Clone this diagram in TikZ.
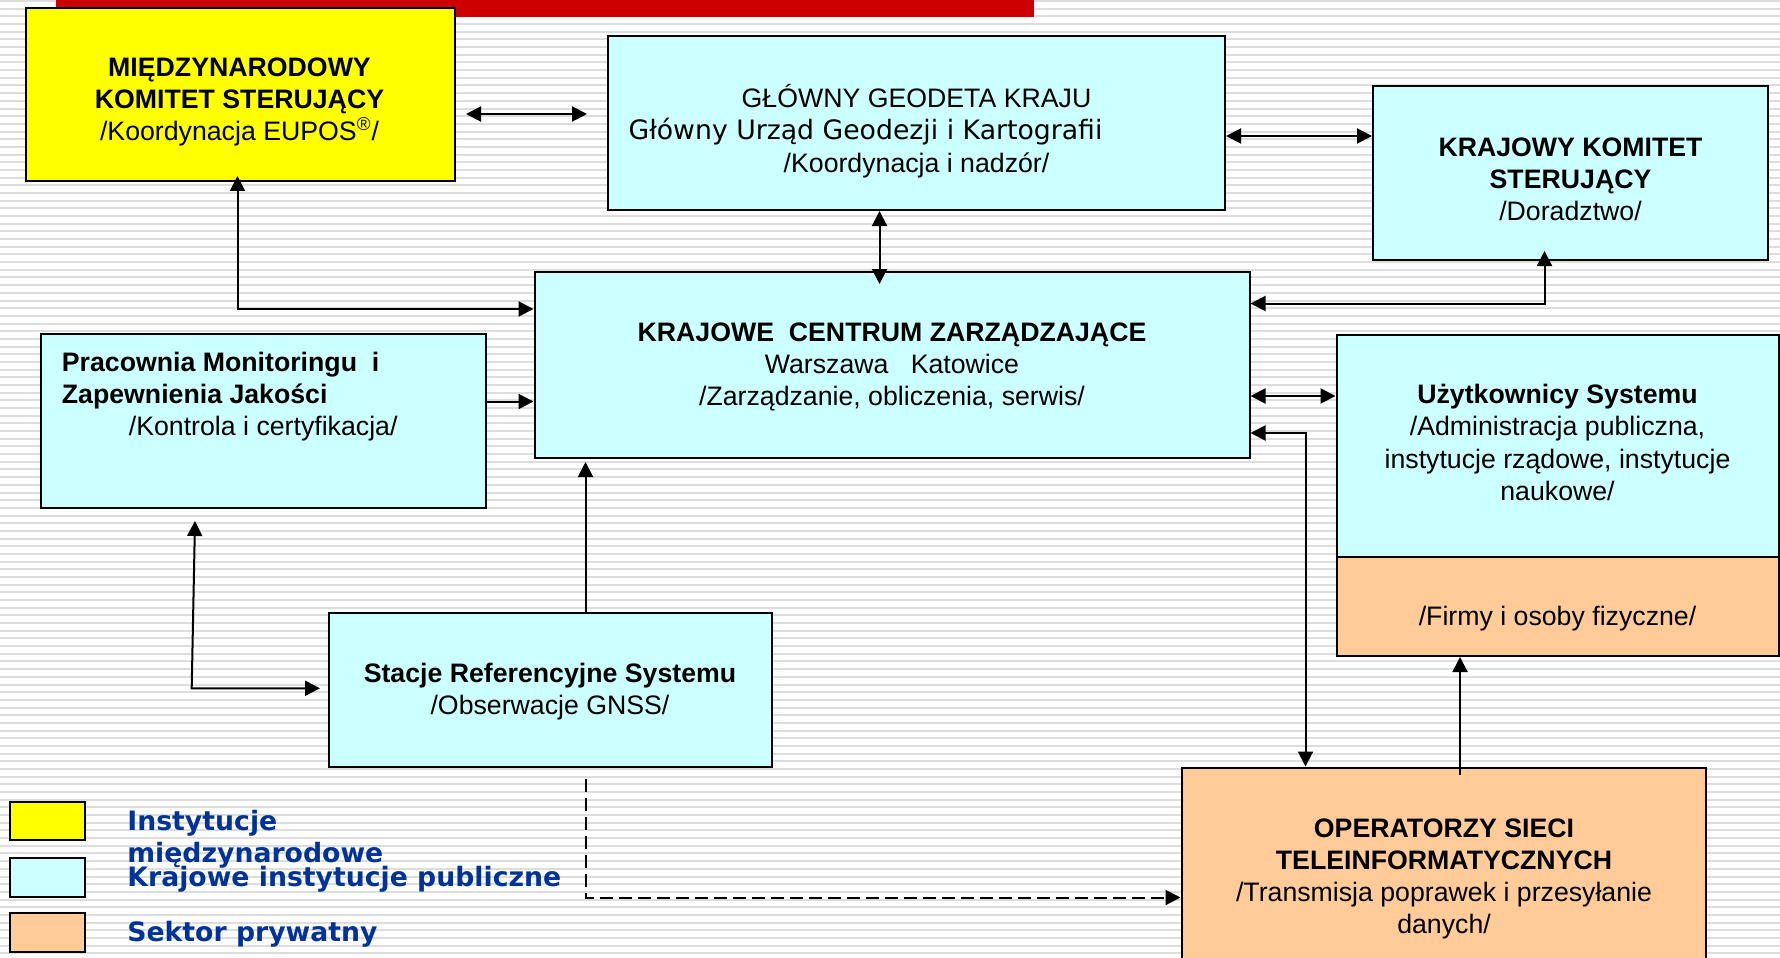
\documentclass[tikz,border=0pt]{standalone}
\usepackage{fontspec}
\setmainfont{Liberation Sans}
\newfontfamily\dejavu{DejaVu Sans}
\usetikzlibrary{arrows.meta,fit}

\definecolor{boxyellow}{RGB}{255,255,0}
\definecolor{boxcyan}{RGB}{204,255,255}
\definecolor{boxorange}{RGB}{255,204,153}
\definecolor{barred}{RGB}{204,0,0}
\definecolor{legblue}{RGB}{0,51,153}
\definecolor{stripegray}{RGB}{221,221,221}

\tikzset{
  box/.style={draw=black, line width=1pt, inner sep=0pt},
  swatch/.style={draw=black, line width=0.9pt, inner sep=0pt},
  txt/.style={font=\fontsize{13.35}{16.15}\selectfont, align=center, inner sep=0pt},
  legtxt/.style={font=\dejavu\bfseries\fontsize{13.35}{16}\selectfont, text=legblue,
                 align=left, inner sep=0pt},
  conn/.style={line width=1pt, -{Triangle[length=7.5pt,width=7.5pt]}},
  biconn/.style={line width=1pt,
                 {Triangle[length=7.5pt,width=7.5pt]}-{Triangle[length=7.5pt,width=7.5pt]}},
  dashconn/.style={conn, dash pattern=on 6.5pt off 3pt},
  stripeline/.style={draw=stripegray, line width=1pt},
}

\begin{document}
\begin{tikzpicture}[x=0.5pt, y=-0.5pt]
  \path[use as bounding box] (0,0) rectangle (1780,957);
  \clip (0,0) rectangle (1780,957);

  % striped background
  \fill[white] (0,0) rectangle (1780,957);
  \foreach \k in {0,...,124} {
    \draw[stripeline] (0,{1+7.68*\k}) -- (1780,{1+7.68*\k});
  }

  % red title bar
  \fill[barred] (56,0) rectangle (1034,17.5);

  % boxes
  \node[box, fill=boxyellow, fit={(25.5,8.5) (454.5,181)}] (mks) {};
  \node[box, fill=boxcyan, fit={(608,36.5) (1225,210)}] (ggk) {};
  \node[box, fill=boxcyan, fit={(1373,86.5) (1768,260)}] (kks) {};
  \node[box, fill=boxcyan, fit={(534.5,272) (1249.5,458)}] (kcz) {};
  \node[box, fill=boxcyan, fit={(41,334) (485.5,507.5)}] (pm) {};
  \node[box, fill=boxcyan, fit={(1336.5,334.5) (1779,557)}] (us) {};
  \node[box, fill=boxorange, fit={(1336.5,557) (1779,656)}] (fo) {};
  \node[box, fill=boxcyan, fit={(328.5,612.5) (772,767)}] (srs) {};
  \node[box, fill=boxorange, fit={(1181.5,767.5) (1706,975)}] (osti) {};

  % box texts
  \node[txt] (mks-t) at (239.5,102)
    {\strut\textbf{MIĘDZYNARODOWY}\\\strut\textbf{KOMITET STERUJĄCY}\\\strut/Koordynacja EUPOS\smash{\textsuperscript{®}}/};
  \node[txt] (ggk-t) at (916.5,133)
    {\strut GŁÓWNY GEODETA KRAJU\\\strut{\dejavu Główny Urząd Geodezji i Kartografii}\rule{51pt}{0pt}\\\strut/Koordynacja i nadzór/};
  \node[txt] (kks-t) at (1570.5,182)
    {\strut\textbf{KRAJOWY KOMITET}\\\strut\textbf{STERUJĄCY}\\\strut/Doradztwo/};
  \node[txt] (kcz-t) at (892,367)
    {\strut\textbf{KRAJOWE\ \ CENTRUM ZARZĄDZAJĄCE}\\\strut Warszawa\ \ \ Katowice\\\strut/Zarządzanie, obliczenia, serwis/};
  \node[txt, align=left, anchor=west] (pm-t) at (61.5,397.2)
    {\strut\textbf{Pracownia Monitoringu\ \ i}\\\strut\textbf{Zapewnienia Jakości}\\\strut\rule{33.5pt}{0pt}/Kontrola i certyfikacja/};
  \node[txt] (us-t) at (1557.5,445.5)
    {\strut\textbf{Użytkownicy Systemu}\\\strut/Administracja publiczna,\\\strut instytucje rządowe, instytucje\\\strut naukowe/};
  \node[txt] (fo-t) at (1557.5,619.5) {\strut/Firmy i osoby fizyczne/};
  \node[txt] (srs-t) at (550,692.2)
    {\strut\textbf{Stacje Referencyjne Systemu}\\\strut/Obserwacje GNSS/};
  \node[txt] (osti-t) at (1444,879)
    {\strut\textbf{OPERATORZY SIECI}\\\strut\textbf{TELEINFORMATYCZNYCH}\\\strut/Transmisja poprawek i przesyłanie\\\strut danych/};

  % connector end points
  \coordinate (p1a) at (466,114);
  \coordinate (p1b) at (587,114);
  \coordinate (p2) at (0,136);
  \coordinate (p3) at (879.5,284);
  \coordinate (p4) at (237.5,309);
  \coordinate (p4top) at (237.5,176);
  \coordinate (p5) at (0,401.5);
  \coordinate (p6a) at (195,521);
  \coordinate (p6b) at (191.7,688.3);
  \coordinate (p6c) at (320,688.3);
  \coordinate (p7) at (585.5,462);
  \coordinate (p8) at (1544.5,303.5);
  \coordinate (p8top) at (1544.5,251);
  \coordinate (p9) at (0,396);
  \coordinate (p10) at (1305.5,433);
  \coordinate (p11) at (1460,775);
  \coordinate (p12a) at (585.5,779);
  \coordinate (p12b) at (0,897.5);

  % connectors
  \draw[biconn] (p1a) -- (p1b);
  \draw[biconn] (ggk.east |- p2) -- (kks.west |- p2);
  \draw[biconn] (p3 |- ggk.south) -- (p3);
  \draw[biconn] (p4top) |- (kcz.west |- p4);
  \draw[conn] (pm.east |- p5) -- (kcz.west |- p5);
  \draw[biconn] (p6a) -- (p6b) -- (p6c);
  \draw[conn] (p7 |- srs.north) -- (p7);
  \draw[biconn] (kcz.east |- p8) -| (p8top);
  \draw[biconn] (kcz.east |- p9) -- (us.west |- p9);
  \draw[biconn] (kcz.east |- p10) -| (p10 |- osti.north);
  \draw[conn] (p11) -- (p11 |- fo.south);
  \draw[dashconn] (p12a) |- (osti.west |- p12b);

  % legend
  \node[swatch, fill=boxyellow, fit={(10,802) (85,840)}] (leg-y) {};
  \node[swatch, fill=boxcyan, fit={(10,858) (85,897)}] (leg-c) {};
  \node[swatch, fill=boxorange, fit={(10,913) (85,952)}] (leg-o) {};
  \node[legtxt, anchor=west] (leg-y-t) at (127,839.6) {\strut Instytucje\\\strut międzynarodowe};
  \node[legtxt, anchor=base west] (leg-c-t) at (127,886) {Krajowe instytucje publiczne};
  \node[legtxt, anchor=base west] (leg-o-t) at (127,941) {Sektor prywatny};
\end{tikzpicture}
\end{document}
